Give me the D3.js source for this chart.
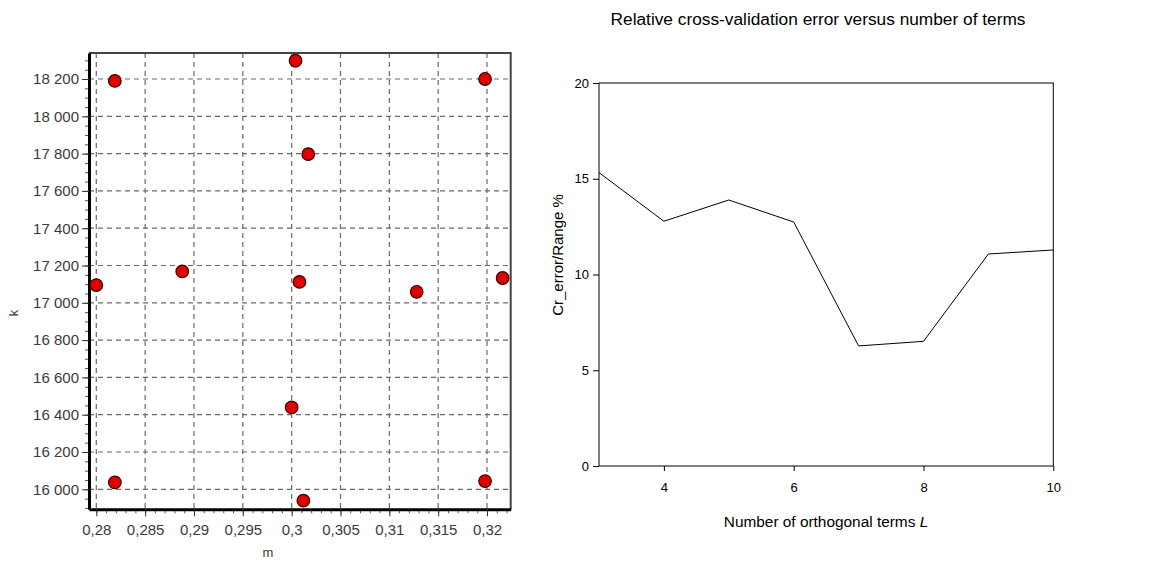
<!DOCTYPE html>
<html>
<head>
<meta charset="utf-8">
<script src="https://cdn.jsdelivr.net/npm/d3@7"></script>
<style>
  html, body { margin: 0; padding: 0; background: #fff; }
  svg { display: block; }
</style>
</head>
<body>
<svg id="chart" width="1153" height="562"></svg>
<script>
// Sample points of the (m, k) design
const mValues = [0.2800, 0.2819, 0.2888, 0.2819, 0.3004, 0.3198, 0.3017, 0.3008, 0.3128, 0.3216, 0.3000, 0.3012, 0.3198];
const kValues = [17095, 18190, 17168, 16037, 18298, 18200, 17797, 17112, 17059, 17133, 16439, 15939, 16044];
const mTicks = [0.28, 0.285, 0.29, 0.295, 0.3, 0.305, 0.31, 0.315, 0.32];
const kTicks = [16000, 16200, 16400, 16600, 16800, 17000, 17200, 17400, 17600, 17800, 18000, 18200];

// Cross-validation error against number of orthogonal terms
const terms = [3, 4, 5, 6, 7, 8, 9, 10];
const crError = [15.32, 12.78, 13.89, 12.74, 6.27, 6.51, 11.07, 11.28];
const termTicks = [4, 6, 8, 10];
const errorTicks = [0, 5, 10, 15, 20];

const svg = d3.select("#chart");
const FONT = "Liberation Sans, Arial, sans-serif";

// ---------- Left panel: scatter of k versus m ----------
const ruLocale = d3.formatLocale({ decimal: ",", thousands: " ", grouping: [3], currency: ["", ""] });
const fmtK = ruLocale.format(",");
const fmtM = v => String(+v.toFixed(3)).replace(".", ",");

const L = { left: 89, right: 510.7, top: 53, bottom: 509.3 };
const xm = d3.scaleLinear().domain([0.279253, 0.322426]).range([L.left, L.right]);
const yk = d3.scaleLinear().domain([15892.7, 18339.5]).range([L.bottom, L.top]);

const left = svg.append("g").attr("font-family", FONT);

left.append("rect")
  .attr("x", L.left).attr("y", L.top)
  .attr("width", L.right - L.left).attr("height", L.bottom - L.top)
  .attr("fill", "#fff");

// dashed grid
const grid = left.append("g").attr("stroke", "#6a6a6a").attr("stroke-width", 1.2).attr("stroke-dasharray", "5,4");
grid.selectAll("line.gx").data(mTicks).join("line").attr("class", "gx")
  .attr("x1", d => xm(d)).attr("x2", d => xm(d))
  .attr("y1", L.top).attr("y2", L.bottom);
grid.selectAll("line.gy").data(kTicks).join("line").attr("class", "gy")
  .attr("y1", d => yk(d)).attr("y2", d => yk(d))
  .attr("x1", L.left).attr("x2", L.right);

// top and right border
left.append("path")
  .attr("d", `M${L.left},${L.top}H${L.right}V${L.bottom}`)
  .attr("fill", "none").attr("stroke", "#444").attr("stroke-width", 2);

// minor ticks
const mMinor = d3.range(0.280, 0.3225, 0.001).filter(v => xm(v) <= L.right);
const kMinor = d3.range(15900, 18340, 50);
left.append("g").attr("transform", `translate(0,${L.bottom})`)
  .call(d3.axisBottom(xm).tickValues(mMinor).tickSize(4).tickFormat(""))
  .call(g => g.select(".domain").remove())
  .call(g => g.selectAll("line").attr("stroke", "#555"));
left.append("g").attr("transform", `translate(${L.left},0)`)
  .call(d3.axisLeft(yk).tickValues(kMinor).tickSize(4).tickFormat(""))
  .call(g => g.select(".domain").remove())
  .call(g => g.selectAll("line").attr("stroke", "#555"));

// major axes
const xAxisM = d3.axisBottom(xm).tickValues(mTicks).tickSize(7).tickSizeOuter(0).tickPadding(8).tickFormat(fmtM);
const yAxisK = d3.axisLeft(yk).tickValues(kTicks).tickSize(7).tickSizeOuter(0).tickPadding(3).tickFormat(fmtK);

left.append("g").attr("transform", `translate(0,${L.bottom})`).call(xAxisM)
  .call(g => g.select(".domain").attr("stroke", "#000").attr("stroke-width", 3))
  .call(g => g.selectAll(".tick line").attr("stroke", "#333"))
  .call(g => g.selectAll(".tick text").attr("fill", "#3a3a3a").attr("font-size", 15).attr("font-family", FONT));

left.append("g").attr("transform", `translate(${L.left},0)`).call(yAxisK)
  .call(g => g.select(".domain").attr("stroke", "#000").attr("stroke-width", 3))
  .call(g => g.selectAll(".tick line").attr("stroke", "#333"))
  .call(g => g.selectAll(".tick text").attr("fill", "#3a3a3a").attr("font-size", 15).attr("font-family", FONT));

// axis titles
left.append("text")
  .attr("transform", "translate(18,313) rotate(-90)")
  .attr("text-anchor", "middle").attr("font-size", 13).attr("fill", "#3a3a3a")
  .text("k");
left.append("text")
  .attr("x", 268).attr("y", 557)
  .attr("text-anchor", "middle").attr("font-size", 13).attr("fill", "#3a3a3a")
  .text("m");

// points
left.append("g").selectAll("circle")
  .data(mValues.map((m, i) => ({ m, k: kValues[i] })))
  .join("circle")
  .attr("cx", d => xm(d.m)).attr("cy", d => yk(d.k))
  .attr("r", 6.3)
  .attr("fill", "#e00000")
  .attr("stroke", "#3a0000").attr("stroke-width", 1.2);

// ---------- Right panel: error versus number of terms ----------
const R = { left: 599, right: 1053.3, top: 83, bottom: 466 };
const xt = d3.scaleLinear().domain([3, 10]).range([R.left, R.right]);
const ye = d3.scaleLinear().domain([0, 20]).range([R.bottom, R.top]);

const right = svg.append("g").attr("font-family", FONT);

right.append("text")
  .attr("x", 818).attr("y", 25)
  .attr("text-anchor", "middle").attr("font-size", 17.3).attr("fill", "#000")
  .text("Relative cross-validation error versus number of terms");

right.append("rect")
  .attr("x", R.left).attr("y", R.top)
  .attr("width", R.right - R.left).attr("height", R.bottom - R.top)
  .attr("fill", "none").attr("stroke", "#000").attr("stroke-width", 1);

const xAxisT = d3.axisBottom(xt).tickValues(termTicks).tickSize(5).tickSizeOuter(0).tickPadding(12).tickFormat(d3.format("d"));
const yAxisE = d3.axisLeft(ye).tickValues(errorTicks).tickSize(6).tickSizeOuter(0).tickPadding(4).tickFormat(d3.format("d"));

right.append("g").attr("transform", `translate(0,${R.bottom})`).call(xAxisT)
  .call(g => g.select(".domain").remove())
  .call(g => g.selectAll(".tick text").attr("font-size", 13).attr("fill", "#000").attr("font-family", FONT));
right.append("g").attr("transform", `translate(${R.left},0)`).call(yAxisE)
  .call(g => g.select(".domain").remove())
  .call(g => g.selectAll(".tick text").attr("font-size", 13).attr("fill", "#000").attr("font-family", FONT));

right.append("text")
  .attr("transform", "translate(563,255) rotate(-90)")
  .attr("text-anchor", "middle").attr("font-size", 15).attr("fill", "#000")
  .text("Cr_error/Range %");

const xLabel = right.append("text")
  .attr("x", 826).attr("y", 527)
  .attr("text-anchor", "middle").attr("font-size", 15.4).attr("fill", "#000");
xLabel.append("tspan").text("Number of orthogonal terms ");
xLabel.append("tspan").attr("font-style", "italic").text("L");

const line = d3.line().x(d => xt(d[0])).y(d => ye(d[1]));
right.append("path")
  .datum(terms.map((t, i) => [t, crError[i]]))
  .attr("d", line)
  .attr("fill", "none").attr("stroke", "#000").attr("stroke-width", 1);
</script>
</body>
</html>
